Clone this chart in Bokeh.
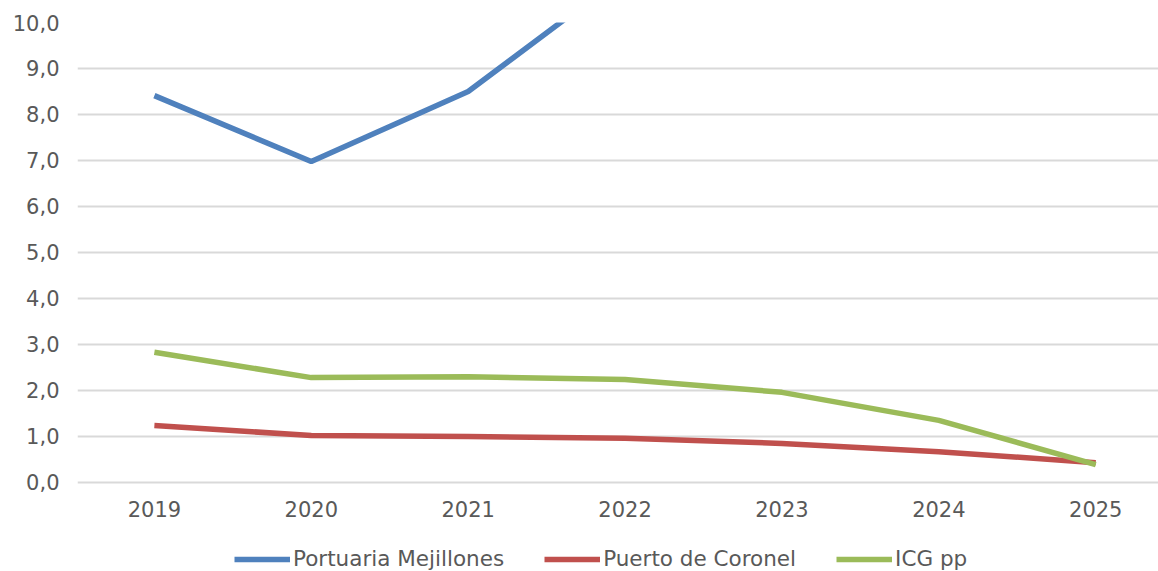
from bokeh.plotting import figure
from bokeh.models import Range1d, FixedTicker, Legend, LegendItem
from bokeh.embed import file_html
from bokeh.resources import INLINE

years = ["2019", "2020", "2021", "2022", "2023", "2024", "2025"]
mejillones = [8.41, 6.98, 8.50, 11.05, 12.2, 12.8, 13.4]
coronel = [1.24, 1.02, 1.00, 0.96, 0.85, 0.67, 0.43]
icg = [2.83, 2.28, 2.30, 2.24, 1.96, 1.35, 0.39]
y_ticks = [0, 1, 2, 3, 4, 5, 6, 7, 8, 9, 10]
y_labels = ["0,0", "1,0", "2,0", "3,0", "4,0", "5,0", "6,0", "7,0", "8,0", "9,0", "10,0"]

xs = list(range(len(years)))
FONT = "DejaVu Sans"
TXT = "#595959"

p = figure(width=1158, height=571, output_backend="svg", toolbar_location=None,
           x_range=Range1d(-0.49, 6.40), y_range=Range1d(-1.935, 10),
           min_border_left=77, min_border_right=0, min_border_top=22, min_border_bottom=0)
p.outline_line_color = None
p.background_fill_color = "white"
p.border_fill_color = "white"

r1 = p.line(xs, mejillones, line_color="#4F81BD", line_width=5.5)
r2 = p.line(xs, coronel, line_color="#C0504D", line_width=5.5)
r3 = p.line(xs, icg, line_color="#9BBB59", line_width=5.5)

p.xaxis.ticker = FixedTicker(ticks=xs)
p.xaxis.major_label_overrides = {i: y for i, y in enumerate(years)}
p.xaxis.fixed_location = 0
p.yaxis.ticker = FixedTicker(ticks=y_ticks)
p.yaxis.major_label_overrides = {t: l for t, l in zip(y_ticks, y_labels)}
for ax in (p.xaxis, p.yaxis):
    ax.axis_line_color = None
    ax.major_tick_line_color = None
    ax.minor_tick_line_color = None
    ax.major_tick_out = 0
    ax.major_tick_in = 0
    ax.major_label_text_font = FONT
    ax.major_label_text_font_size = "21px"
    ax.major_label_text_color = TXT
p.yaxis.major_label_standoff = 18
p.xaxis.major_label_standoff = 19

p.xgrid.grid_line_color = None
p.ygrid.ticker = FixedTicker(ticks=y_ticks)
p.ygrid.grid_line_color = "#D9D9D9"
p.ygrid.grid_line_width = 2

legend = Legend(items=[LegendItem(label="Portuaria Mejillones", renderers=[r1]),
                       LegendItem(label="Puerto de Coronel", renderers=[r2]),
                       LegendItem(label="ICG pp", renderers=[r3])],
                location=(157, 0), orientation="horizontal", padding=0, margin=0, spacing=40,
                glyph_width=56, glyph_height=20, label_height=20, label_standoff=3,
                label_text_font=FONT, label_text_font_size="21.5px", label_text_color=TXT,
                background_fill_alpha=0, border_line_color=None)
p.add_layout(legend, "center")

open("out.html", "w").write(file_html(p, INLINE))
